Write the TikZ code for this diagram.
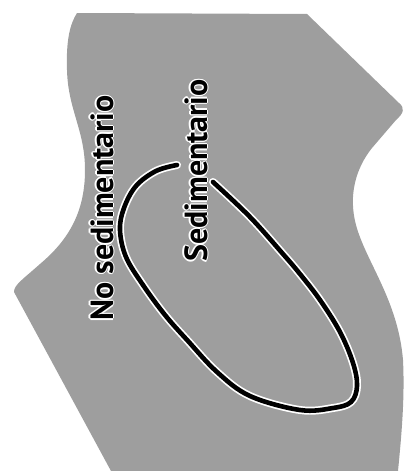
\documentclass[tikz,border=0pt]{standalone}
\usepackage{fontspec}
\setsansfont{PT Sans}
\usetikzlibrary{calc}

\begin{document}
\begin{tikzpicture}[x=1pt,y=-1pt,
  every node/.style={font=\sffamily\bfseries\fontsize{32}{32}\selectfont,inner sep=0pt,rotate=90,anchor=base west},
  region/.style={fill=black!38},
  halo/.style={white,line width=8pt,line cap=round},
  boundary/.style={black,line width=4.6pt,line cap=round}]
\useasboundingbox (0,0) rectangle (404,471);
% grey territory
\fill[region] (77,13) -- (307,14) -- (399,103) .. controls (405,108) and (404,113) .. (396,120)
  -- (372,148) .. controls (356,168) and (348,195) .. (356,225)
  .. controls (366,262) and (398,300) .. (403,360)
  .. controls (405,400) and (401,440) .. (398,471) -- (111,471) -- (14,292)
  .. controls (14,285) and (22,280) .. (40,264)
  .. controls (66,242) and (85,215) .. (85,170)
  .. controls (85,130) and (68,110) .. (67,70)
  .. controls (66,40) and (70,24) .. (77,13) -- cycle;
% sediment line
\foreach \s in {halo,boundary}
  \draw[\s] plot[smooth,tension=0.6] coordinates {(177,165) (156,171) (136,186) (124,208) (120,230)
    (126,257) (143,285) (165,315) (188,341) (217,372) (250,396) (300,410) (333,408)
    (351,402) (357,386) (353,363) (340,332) (320,300) (300,274) (283,254) (250,217) (213,182)};
% labels
\foreach \a in {0,45,...,315} {
  \node[white] at ($(113,321)+(\a:1.3pt)$) {No sedimentario};
  \node[white] at ($(207,262)+(\a:1.3pt)$) {Sedimentario};
}
\node (nosed) at (113,321) {No sedimentario};
\node (sed) at (207,262) {Sedimentario};
\end{tikzpicture}
\end{document}
